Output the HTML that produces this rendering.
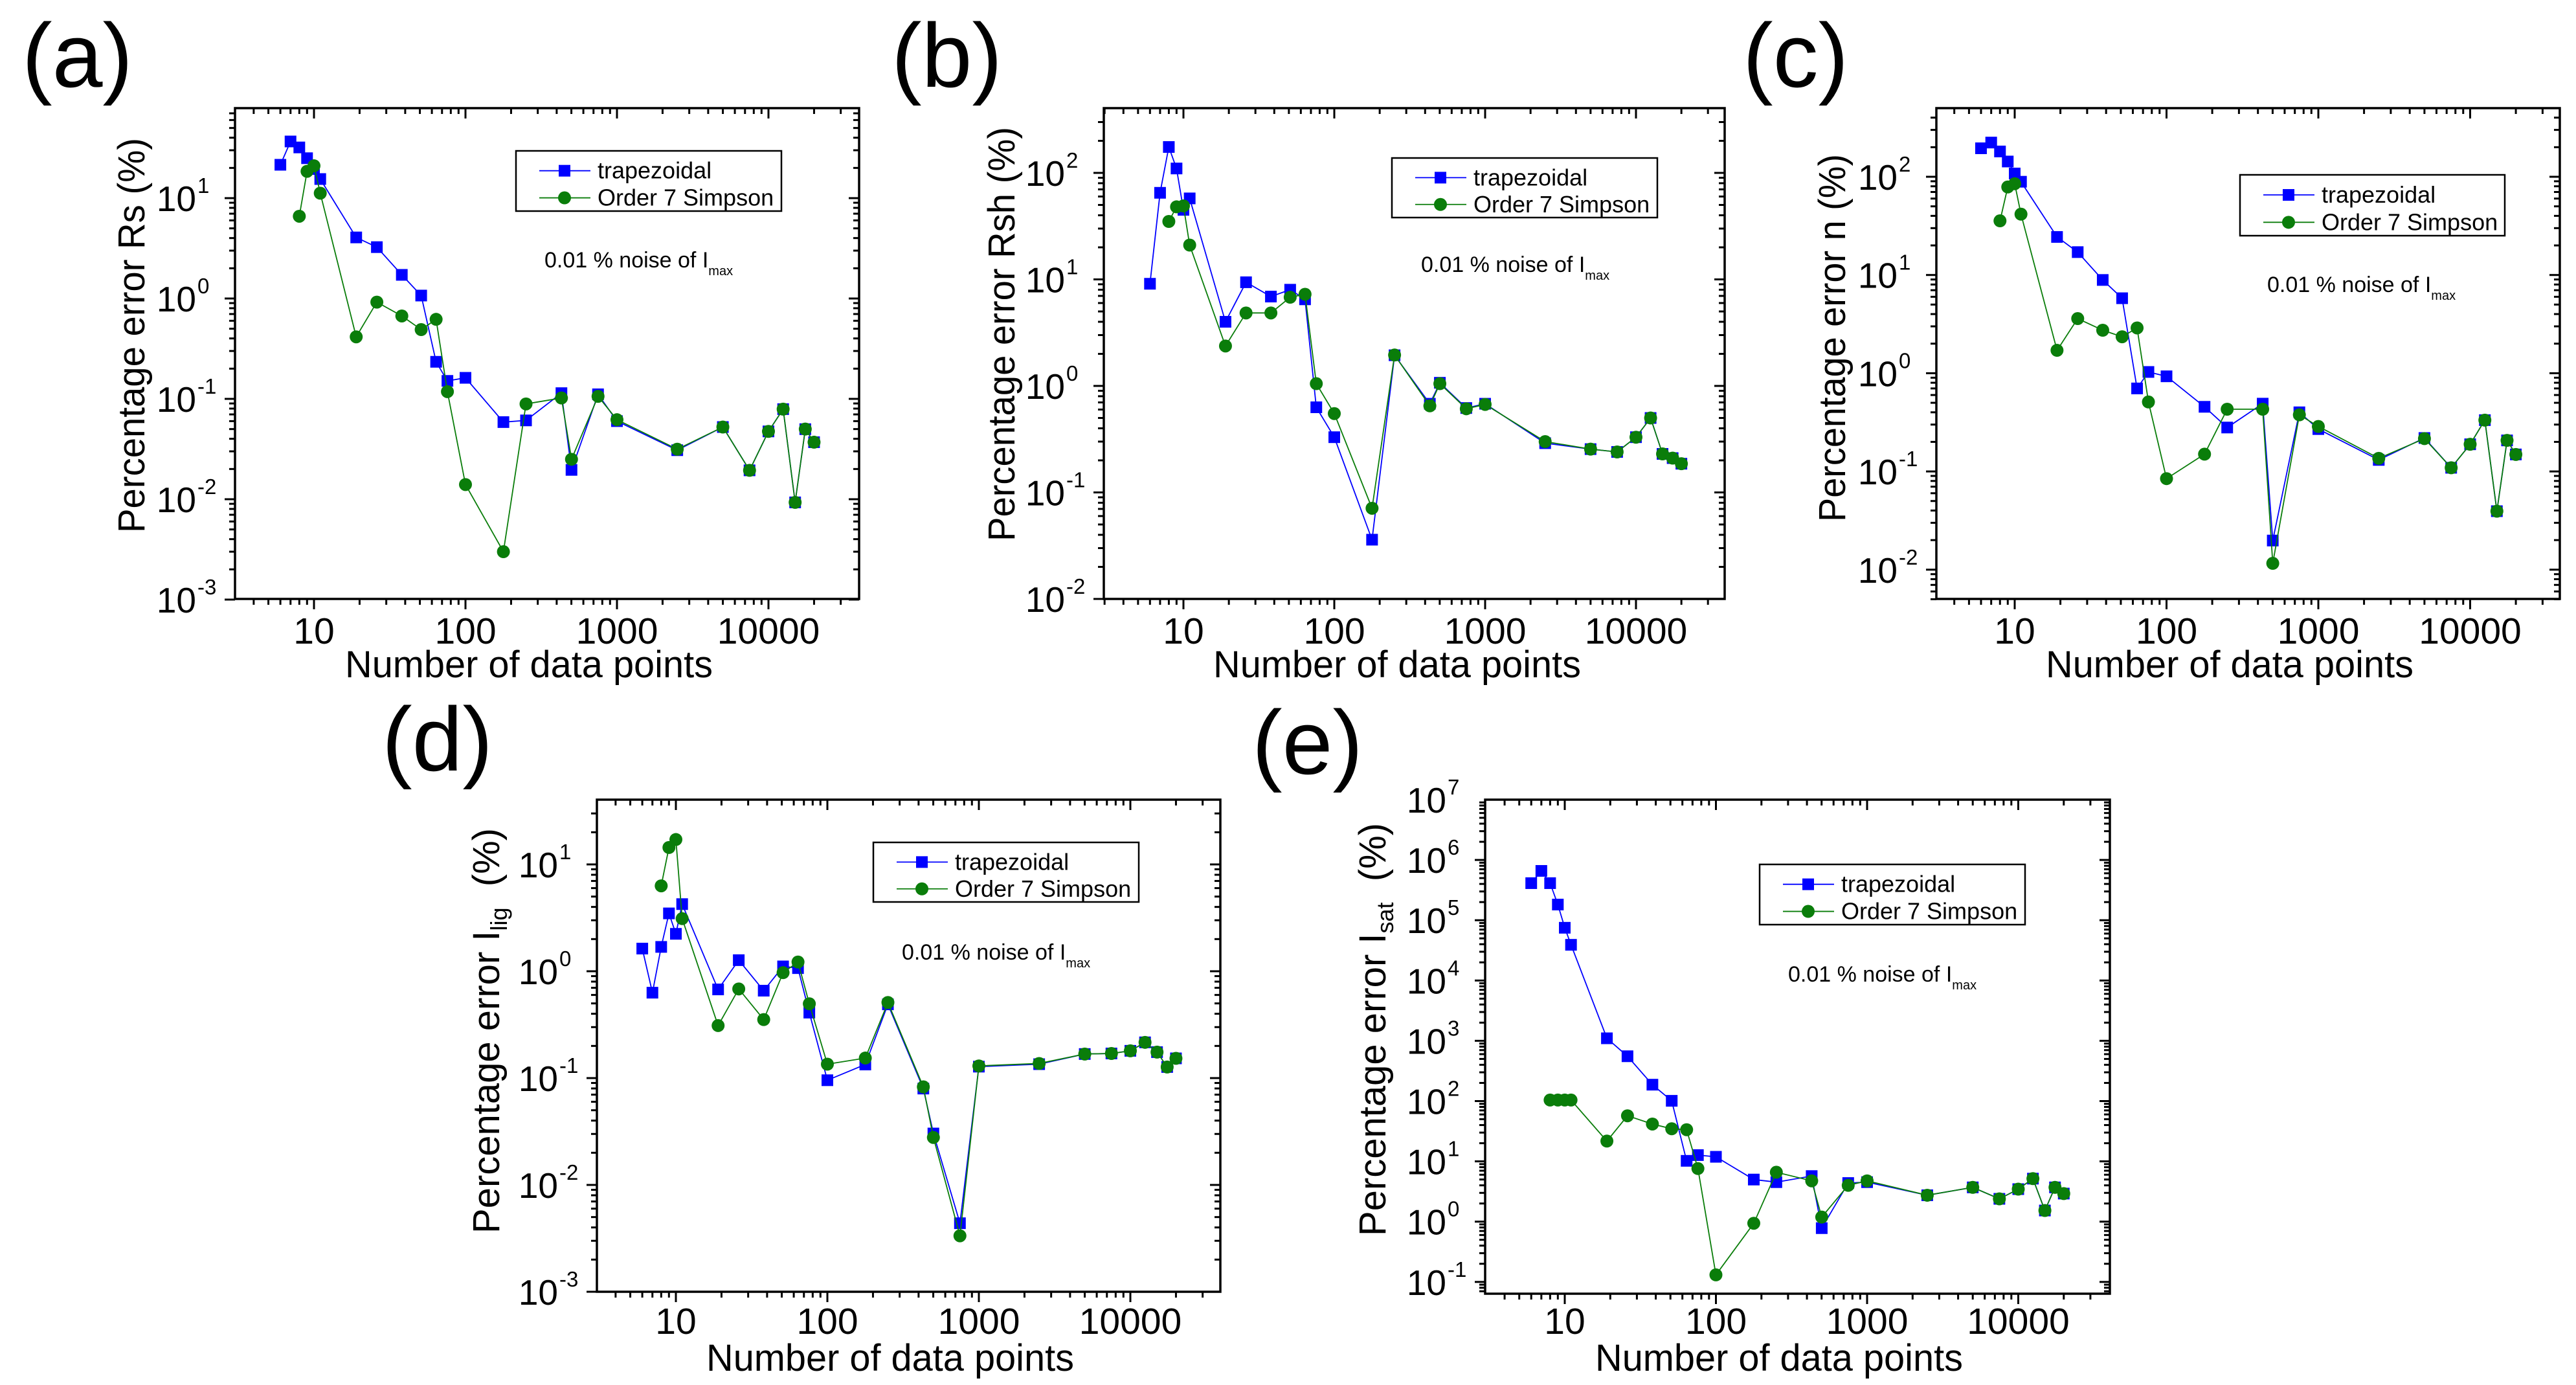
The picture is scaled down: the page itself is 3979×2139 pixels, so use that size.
<!DOCTYPE html>
<html><head><meta charset="utf-8"><title>Percentage error vs number of data points</title>
<style>
html,body{margin:0;padding:0;background:#fff;}
svg{display:block;font-family:"Liberation Sans",Arial,sans-serif;}
</style></head>
<body>
<svg id="fig" width="3979" height="2139" viewBox="0 0 3979 2139" xmlns="http://www.w3.org/2000/svg">
<rect x="0" y="0" width="3979" height="2139" fill="#ffffff"/>
</svg>
<script>
const NPOINTS = [6,7,8,9,10,11,19,26,38,51,64,76,100,178,251,430,501,750,1000,2500,5000,7500,10000,12500,15000,17500,20000];
const X_TICK_LABELS = ["10","100","1000","10000"];
const X_TICK_VALUES = [10,100,1000,10000];

const TRAP_A = [21.5,36.7,32,25,19.5,15.5,4.06,3.25,1.72,1.07,0.234,0.151,0.162,0.0587,0.061,0.114,0.0196,0.111,0.06,0.0308,0.0524,0.0194,0.0474,0.079,0.0093,0.0499,0.037];
const SIMP_A = [null,null,6.6,18.5,21,11.2,0.415,0.92,0.67,0.49,0.62,0.118,0.014,0.003,0.089,0.102,0.025,0.106,0.062,0.0315,0.0524,0.0194,0.0474,0.079,0.0093,0.05,0.037];

const TRAP_B = [9.1,65,175,110,45,57.6,4.0,9.4,6.9,8.0,6.5,0.63,0.33,0.036,1.94,0.68,1.07,0.62,0.68,0.29,0.255,0.24,0.33,0.5,0.23,0.21,0.186];
const SIMP_B = [null,null,35,48,49,21,2.37,4.84,4.84,6.8,7.25,1.05,0.55,0.071,1.95,0.65,1.05,0.61,0.67,0.3,0.255,0.24,0.33,0.5,0.23,0.21,0.186];

const TRAP_C = [195,223,181,143,108,89,24.4,17.1,8.9,5.8,0.7,1.03,0.93,0.455,0.28,0.49,0.0198,0.4,0.27,0.131,0.219,0.109,0.189,0.333,0.0394,0.207,0.149];
const SIMP_C = [null,null,35.6,78.7,85,41.6,1.71,3.6,2.74,2.35,2.89,0.51,0.0845,0.15,0.43,0.43,0.0116,0.377,0.287,0.136,0.216,0.109,0.189,0.333,0.0394,0.207,0.149];

const TRAP_D = [1.63,0.63,1.69,3.48,2.24,4.25,0.676,1.27,0.658,1.11,1.07,0.41,0.0955,0.134,0.49,0.0798,0.0303,0.00438,0.128,0.135,0.168,0.17,0.18,0.216,0.175,0.127,0.153];
const SIMP_D = [null,null,6.3,14.4,17.1,3.11,0.31,0.683,0.353,0.97,1.22,0.496,0.135,0.154,0.51,0.0828,0.0278,0.00334,0.13,0.137,0.168,0.17,0.18,0.216,0.175,0.127,0.153];

const TRAP_E = [412000,658000,412000,182000,75000,39100,1100,554,187,101,10.2,12.7,11.9,4.99,4.52,5.7,0.78,4.37,4.52,2.74,3.7,2.39,3.46,5.17,1.53,3.7,2.92];
const SIMP_E = [null,null,104,104,104,104,21.7,57,41.6,34.7,33.5,7.6,0.131,0.94,6.6,4.75,1.19,4.0,4.75,2.74,3.7,2.39,3.46,5.17,1.53,3.7,2.92];

const SVGNS = "http://www.w3.org/2000/svg";
const fig = document.getElementById('fig');
function mk(tag, attrs, parent){
  const e = document.createElementNS(SVGNS, tag);
  for (const k in attrs) e.setAttribute(k, attrs[k]);
  (parent||fig).appendChild(e);
  return e;
}

const panels = [
  {id:'a', label:'(a)', lx:34, ly:134, L:363,T:167,R:1327,B:925, x10:485, xdec:234, yRefLog:1, yRefPx:306, ydec:155, yLo:-3, yHi:1,
   trap:TRAP_A, simp:SIMP_A, ytitle:['Percentage error Rs (%)',null,null], ytx:205, yty:518, ytLen:610,
   legX:797, legY:233, legW:410, legH:93, annX:841, annY:413, xtX:817, xtY:1026, xlblY:994},
  {id:'b', label:'(b)', lx:1377, ly:134, L:1705,T:167,R:2664,B:925, x10:1828, xdec:233, yRefLog:2, yRefPx:267, ydec:164.5, yLo:-2, yHi:2,
   trap:TRAP_B, simp:SIMP_B, ytitle:['Percentage error Rsh (%)',null,null], ytx:1549, yty:516, ytLen:640,
   legX:2150, legY:244, legW:410, legH:92, annX:2195, annY:420, xtX:2158, xtY:1026, xlblY:994},
  {id:'c', label:'(c)', lx:2692, ly:134, L:2991,T:167,R:3954,B:925, x10:3112, xdec:234.5, yRefLog:2, yRefPx:273, ydec:151.7, yLo:-2, yHi:2,
   trap:TRAP_C, simp:SIMP_C, ytitle:['Percentage error n (%)',null,null], ytx:2832, yty:522, ytLen:568,
   legX:3460, legY:270, legW:409, legH:94, annX:3502, annY:451, xtX:3444, xtY:1026, xlblY:994},
  {id:'d', label:'(d)', lx:590, ly:1190, L:922,T:1235,R:1885,B:1995, x10:1044, xdec:234, yRefLog:1, yRefPx:1335, ydec:165, yLo:-3, yHi:1,
   trap:TRAP_D, simp:SIMP_D, ytitle:['Percentage error I','lig','  (%)'], ytx:753, yty:1592, ytLen:591,
   legX:1349, legY:1301, legW:410, legH:92, annX:1393, annY:1482, xtX:1375, xtY:2097, xlblY:2060},
  {id:'e', label:'(e)', lx:1934, ly:1195, L:2294,T:1235,R:3259,B:1998, x10:2417, xdec:233.5, yRefLog:7, yRefPx:1235, ydec:93.1, yLo:-1, yHi:7,
   trap:TRAP_E, simp:SIMP_E, ytitle:['Percentage error I','sat','  (%)'], ytx:2122, yty:1590, ytLen:600,
   legX:2718, legY:1335, legW:410, legH:93, annX:2762, annY:1516, xtX:2748, xtY:2097, xlblY:2060}
];

panels.forEach(p => {
  const g = mk('g', {});
  
  
  const xS = v => p.x10 + (Math.log10(v) - 1) * p.xdec;
  const yS = v => p.yRefPx - (Math.log10(v) - p.yRefLog) * p.ydec;

  const pl = mk('text', {x:p.lx, y:p.ly, 'font-size':140, fill:'#000'}, g);
  pl.textContent = p.label;
  
  

  const fr = mk('rect', {x:p.L, y:p.T, width:p.R-p.L, height:p.B-p.T, fill:'none', stroke:'#000', 'stroke-width':3.5}, g);
  
  

  const tg = mk('g', {stroke:'#000', 'stroke-width':3}, g);
  
  
  for (let d = 0; d <= 4; d++) {
    for (let m = 1; m <= 9; m++) {
      const v = m * Math.pow(10, d);
      const x = xS(v);
      if (x < p.L + 1 || x > p.R - 1) continue;
      const len = m === 1 ? 16 : 9;
      mk('line', {x1:x, y1:p.B, x2:x, y2:p.B + len}, tg);
      mk('line', {x1:x, y1:p.T, x2:x, y2:p.T + len}, tg);
    }
  }
  for (let d = p.yLo - 1; d <= p.yHi + 1; d++) {
    for (let m = 1; m <= 9; m++) {
      const v = m * Math.pow(10, d);
      const y = yS(v);
      if (y < p.T + 1 || y > p.B + 1) continue;
      const len = m === 1 ? 16 : 9;
      mk('line', {x1:p.L, y1:y, x2:p.L - len, y2:y}, tg);
      mk('line', {x1:p.R, y1:y, x2:p.R - len, y2:y}, tg);
    }
  }
  X_TICK_VALUES.forEach((v, i) => {
    const t = mk('text', {x:xS(v), y:p.xlblY, 'font-size':57, 'text-anchor':'middle', fill:'#000'}, g);
    t.textContent = X_TICK_LABELS[i];
    
    
  });
  for (let k = p.yLo; k <= p.yHi; k++) {
    const y = yS(Math.pow(10, k));
    const t = mk('text', {x:p.L - 60, y:y + 20, 'font-size':55, 'text-anchor':'end', fill:'#000'}, g);
    t.textContent = '10';
    
    
    const s = mk('text', {x:p.L - 58, y:y - 8, 'font-size':33, fill:'#000'}, g);
    s.textContent = String(k);
    
    
  }
  const xt = mk('text', {x:p.xtX, y:p.xtY + 20, 'font-size':58, 'text-anchor':'middle', fill:'#000', textLength:568, lengthAdjust:'spacingAndGlyphs'}, g);
  xt.textContent = 'Number of data points';
  
  

  const yt = mk('text', {x:0, y:0, 'font-size':58, 'text-anchor':'middle', fill:'#000', transform:'translate(' + (p.ytx + 18) + ',' + p.yty + ') rotate(-90)'}, g);
  
  
  if (p.ytitle[1] === null) {
    yt.setAttribute('textLength', p.ytLen);
    yt.setAttribute('lengthAdjust', 'spacingAndGlyphs');
    yt.textContent = p.ytitle[0];
  } else {
    const a = mk('tspan', {}, yt); a.textContent = p.ytitle[0];
    const b = mk('tspan', {'font-size':36, dy:12}, yt); b.textContent = p.ytitle[1];
    const c = mk('tspan', {dy:-12}, yt); c.textContent = '\u00a0\u00a0(%)';
  }

  function series(vals, color, shape, name) {
    const sg = mk('g', {}, g);
    
    
    let d = '';
    NPOINTS.forEach((n, i) => {
      const v = vals[i];
      if (v == null) return;
      d += (d ? 'L' : 'M') + xS(n).toFixed(1) + ',' + yS(v).toFixed(1);
    });
    const ln = mk('path', {d:d, fill:'none', stroke:color, 'stroke-width':1.8}, sg);
    
    
    NPOINTS.forEach((n, i) => {
      const v = vals[i];
      if (v == null) return;
      let m;
      if (shape === 'sq') m = mk('rect', {x:xS(n) - 9, y:yS(v) - 9, width:18, height:18, fill:color}, sg);
      else m = mk('circle', {cx:xS(n), cy:yS(v), r:10, fill:color}, sg);
      
      
    });
  }
  series(p.trap, '#0000ff', 'sq', 'trapezoidal');
  series(p.simp, '#0a7d0a', 'ci', 'simpson');

  const lg = mk('g', {}, g);
  
  
  mk('rect', {x:p.legX, y:p.legY, width:p.legW, height:p.legH, fill:'#fff', stroke:'#000', 'stroke-width':2.5}, lg);
  const e1y = p.legY + p.legH * 0.33, e2y = p.legY + p.legH * 0.78;
  [[e1y, '#0000ff', 'sq', 'trapezoidal'], [e2y, '#0a7d0a', 'ci', 'Order 7 Simpson']].forEach(([yy, col, sh, txt]) => {
    const eg = mk('g', {}, lg);
    
    
    mk('line', {x1:p.legX + 36, y1:yy, x2:p.legX + 115, y2:yy, stroke:col, 'stroke-width':1.8}, eg);
    if (sh === 'sq') mk('rect', {x:p.legX + 66, y:yy - 9, width:18, height:18, fill:col}, eg);
    else mk('circle', {cx:p.legX + 75, cy:yy, r:10, fill:col}, eg);
    const t = mk('text', {x:p.legX + 126, y:yy + 12, 'font-size':36, fill:'#000'}, eg);
    t.textContent = txt;
  });

  const an = mk('text', {x:p.annX, y:p.annY, 'font-size':34, fill:'#000'}, g);
  
  
  const a1 = mk('tspan', {}, an); a1.textContent = '0.01 % noise of I';
  const a2 = mk('tspan', {'font-size':20, dy:12}, an); a2.textContent = 'max';
});
</script>
</body></html>
